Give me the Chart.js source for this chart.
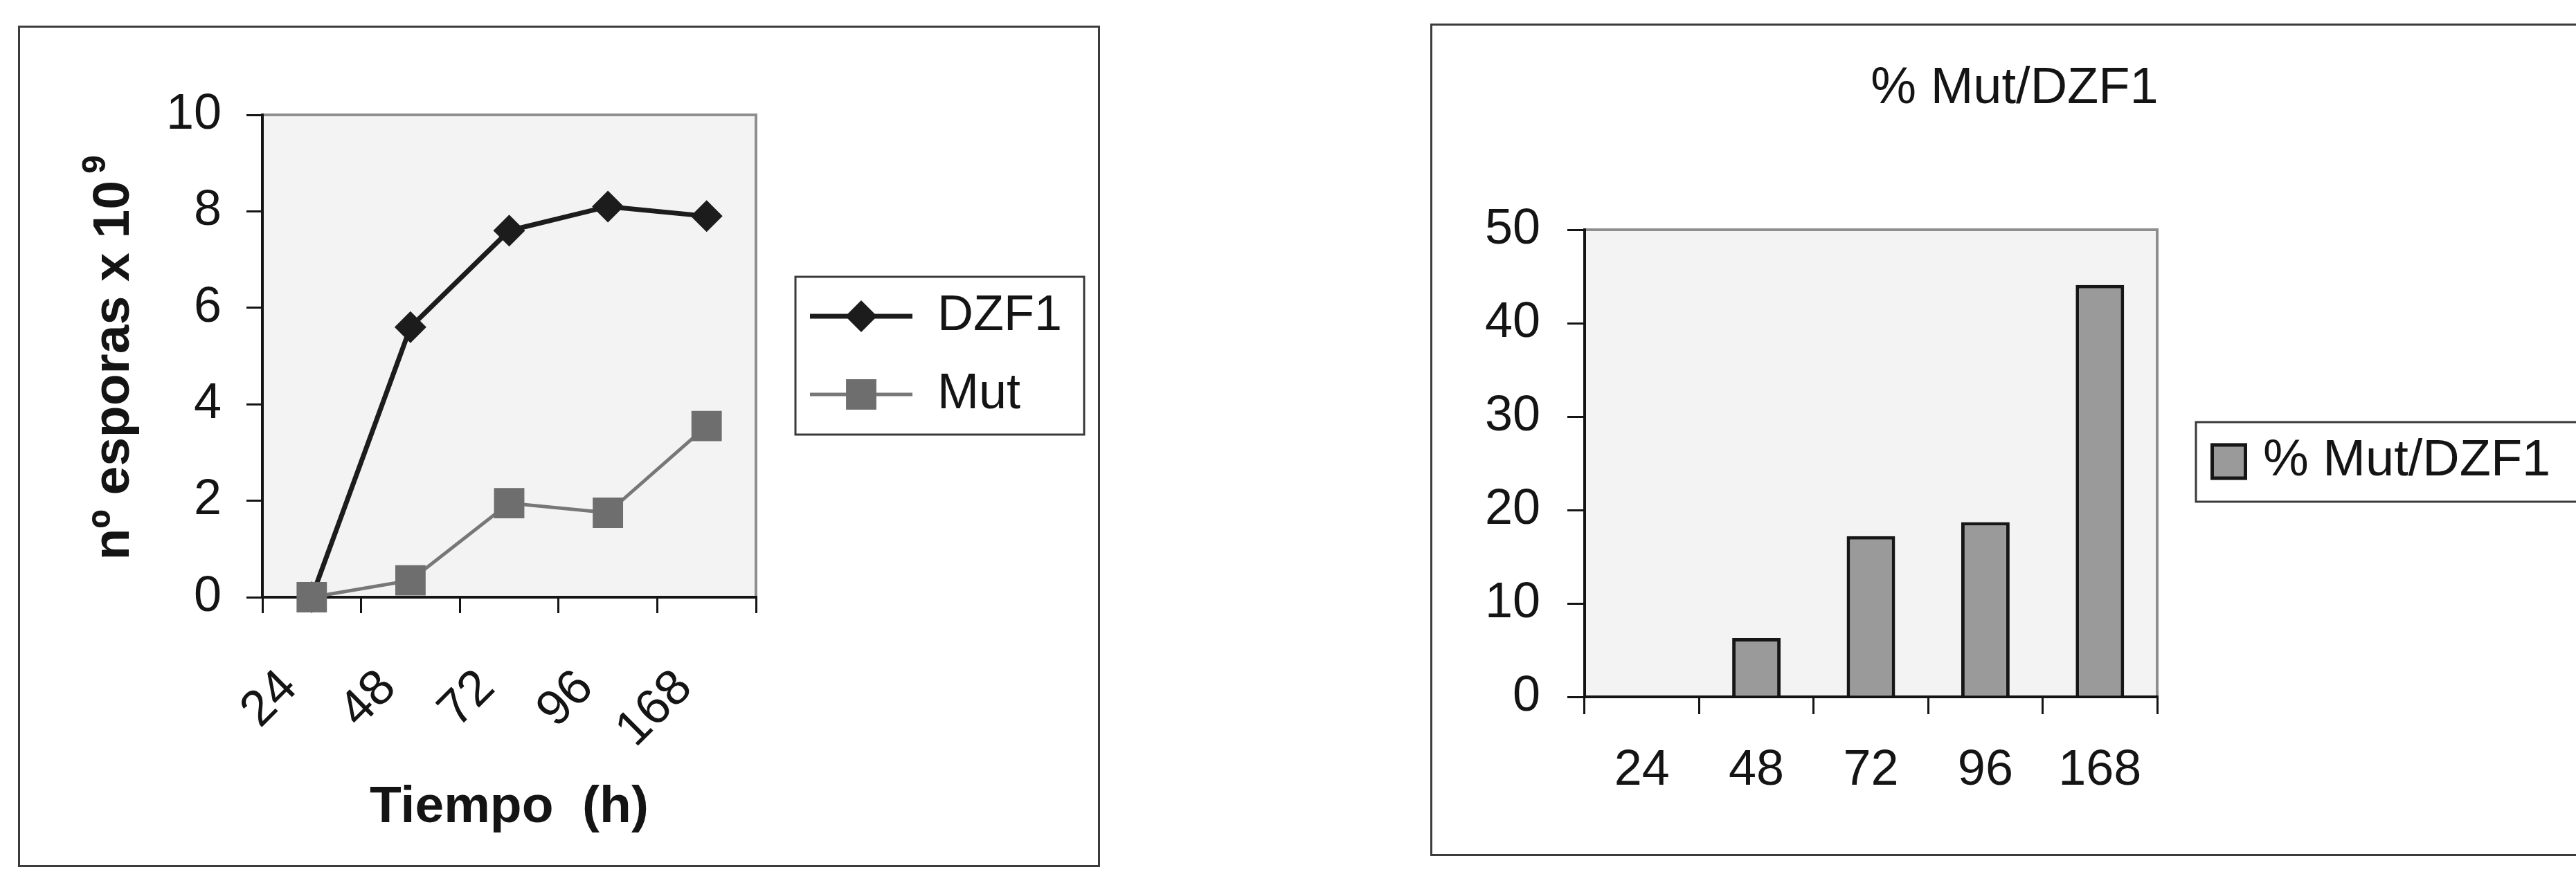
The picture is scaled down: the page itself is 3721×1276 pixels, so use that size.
<!DOCTYPE html>
<html>
<head>
<meta charset="utf-8">
<script src="https://cdn.jsdelivr.net/npm/chart.js@4.4.1/dist/chart.umd.min.js"></script>
<style>
  html, body { margin: 0; padding: 0; background: #fff; width: 3721px; height: 1276px; overflow: hidden; }
  .panel { position: absolute; border: 3px solid #3c3c3c; box-sizing: border-box; background: #fff; }
  #panelSpores { left: 26px; top: 37px; width: 1563px; height: 1216px; }
  #panelRatio  { left: 2066px; top: 34px; width: 1688px; height: 1203px; }
  .panel canvas { position: absolute; left: -3px; top: -3px; }
</style>
</head>
<body>
<div class="panel" id="panelSpores"><canvas id="sporesChart" width="1563" height="1216"></canvas></div>
<div class="panel" id="panelRatio"><canvas id="ratioChart" width="1688" height="1203"></canvas></div>
<script>
// Sampling times (h)
const hours = ['24', '48', '72', '96', '168'];
// Spores (x 10^9) per strain
const dzf1 = [0, 5.6, 7.6, 8.1, 7.9];
const mut = [0, 0.35, 1.95, 1.75, 3.55];
// Mutant spores as % of DZF1
const pctMutDzf1 = [0, 6.3, 17.2, 18.7, 44.1];

const FONT = "'Liberation Sans', Arial, Helvetica, sans-serif";
const INK = '#141414';
Chart.defaults.font.family = FONT;
Chart.defaults.color = INK;

// Light plot background with grey top/right frame (axes supply the other two sides)
const plotFrame = {
  id: 'plotFrame',
  beforeDraw(chart, args, o) {
    const { ctx, chartArea: a } = chart;
    ctx.save();
    ctx.fillStyle = o.fill;
    ctx.fillRect(a.left, a.top, a.right - a.left, a.bottom - a.top);
    ctx.strokeStyle = o.stroke;
    ctx.lineWidth = o.width;
    ctx.beginPath();
    ctx.moveTo(a.left, a.top);
    ctx.lineTo(a.right, a.top);
    ctx.lineTo(a.right, a.bottom);
    ctx.stroke();
    ctx.restore();
  }
};

function markerPath(ctx, style, r, x, y) {
  ctx.beginPath();
  if (style === 'rectRot') {
    ctx.moveTo(x - r, y); ctx.lineTo(x, y - r); ctx.lineTo(x + r, y); ctx.lineTo(x, y + r);
  } else {
    const h = r * Math.SQRT1_2;
    ctx.rect(x - h, y - h, 2 * h, 2 * h);
  }
  ctx.closePath();
}

// Framed legend drawn beside the plot
const boxedLegend = {
  id: 'boxedLegend',
  afterDraw(chart, args, o) {
    const ctx = chart.ctx;
    ctx.save();
    ctx.fillStyle = '#fff';
    ctx.fillRect(o.x, o.y, o.w, o.h);
    ctx.strokeStyle = o.borderColor;
    ctx.lineWidth = o.borderWidth;
    ctx.strokeRect(o.x, o.y, o.w, o.h);
    ctx.font = o.font;
    ctx.textBaseline = 'middle';
    ctx.textAlign = 'left';
    chart.data.datasets.forEach((ds, i) => {
      const cy = o.y + o.firstRow + i * o.rowGap;
      if (o.kind === 'line') {
        ctx.strokeStyle = ds.borderColor;
        ctx.lineWidth = ds.borderWidth;
        ctx.beginPath();
        ctx.moveTo(o.x + o.lineFrom, cy);
        ctx.lineTo(o.x + o.lineTo, cy);
        ctx.stroke();
        ctx.fillStyle = ds.pointBackgroundColor;
        markerPath(ctx, ds.pointStyle, ds.pointRadius, o.x + (o.lineFrom + o.lineTo) / 2, cy);
        ctx.fill();
      } else {
        const s = o.swatch;
        ctx.fillStyle = ds.backgroundColor;
        ctx.fillRect(o.x + o.swatchX, cy - s / 2, s, s);
        ctx.strokeStyle = ds.borderColor;
        ctx.lineWidth = 5;
        ctx.strokeRect(o.x + o.swatchX + 2.5, cy - s / 2 + 2.5, s - 5, s - 5);
      }
      ctx.fillStyle = INK;
      ctx.fillText(ds.label, o.x + o.textX, cy);
    });
    ctx.restore();
  }
};

// Free-standing caption text (chart title, y title with superscript exponent)
const captions = {
  id: 'captions',
  afterDraw(chart, args, o) {
    const ctx = chart.ctx;
    (o.items || []).forEach(it => {
      ctx.save();
      ctx.translate(it.x, it.y);
      if (it.rotate) ctx.rotate(it.rotate);
      ctx.fillStyle = INK;
      ctx.textBaseline = 'alphabetic';
      ctx.textAlign = 'left';
      ctx.font = it.font;
      const wMain = ctx.measureText(it.text).width;
      let wSup = 0;
      if (it.sup) {
        ctx.font = it.supFont;
        wSup = ctx.measureText(it.sup).width + it.supGap;
      }
      const start = -(wMain + wSup) / 2;
      ctx.font = it.font;
      ctx.fillText(it.text, start, it.baseline);
      if (it.sup) {
        ctx.font = it.supFont;
        ctx.fillText(it.sup, start + wMain + it.supGap, it.baseline - it.supRise);
      }
      ctx.restore();
    });
  }
};

const axisInk = { color: INK, width: 4 };

new Chart(document.getElementById('sporesChart'), {
  type: 'line',
  data: {
    labels: hours,
    datasets: [
      {
        label: 'DZF1', data: dzf1, order: 1, clip: false,
        borderColor: '#1c1c1c', borderWidth: 7, tension: 0,
        pointStyle: 'rectRot', pointRadius: 23, pointBackgroundColor: '#1c1c1c',
        pointBorderWidth: 0, pointHoverRadius: 23
      },
      {
        label: 'Mut', data: mut, order: 0, clip: false,
        borderColor: '#777777', borderWidth: 5, tension: 0,
        pointStyle: 'rect', pointRadius: 31, pointBackgroundColor: '#6e6e6e',
        pointBorderWidth: 0, pointHoverRadius: 31
      }
    ]
  },
  options: {
    responsive: false, animation: false, devicePixelRatio: 1,
    layout: { padding: { left: 0, top: 129, right: 497, bottom: 0 } },
    plugins: {
      legend: { display: false }, tooltip: { enabled: false },
      plotFrame: { fill: '#f3f3f3', stroke: '#8e8e8e', width: 4 },
      boxedLegend: {
        kind: 'line', x: 1123, y: 363, w: 417, h: 228, borderColor: '#3a3a3a', borderWidth: 3,
        firstRow: 57, rowGap: 113, lineFrom: 21, lineTo: 169, textX: 205,
        font: `72px ${FONT}`
      },
      captions: {
        items: [{
          x: 160, y: 480, rotate: -Math.PI / 2, baseline: 0,
          text: 'nº esporas x 10', font: `bold 75px ${FONT}`,
          sup: '9', supFont: `bold 48px ${FONT}`, supGap: 10, supRise: 34
        }]
      }
    },
    scales: {
      x: {
        offset: true,
        grid: { offset: true, drawOnChartArea: false, tickLength: 23, color: INK, lineWidth: 3 },
        border: axisInk,
        ticks: { minRotation: 45, maxRotation: 45, autoSkip: false, padding: 66, labelOffset: -32, font: { size: 72 } },
        title: { display: true, text: 'Tiempo  (h)', font: { size: 75, weight: 'bold' }, padding: { top: 0, bottom: 41 } },
        afterFit(s) { s.height = 390; }
      },
      y: {
        min: 0, max: 10,
        grid: { drawOnChartArea: false, tickLength: 23, color: INK, lineWidth: 3 },
        border: axisInk,
        ticks: { stepSize: 2, padding: 36, font: { size: 72 } },
        afterFit(s) { s.width = 353; }
      }
    }
  },
  plugins: [plotFrame, boxedLegend, captions]
});

new Chart(document.getElementById('ratioChart'), {
  type: 'bar',
  data: {
    labels: hours,
    datasets: [{
      label: '% Mut/DZF1', data: pctMutDzf1,
      backgroundColor: '#9a9a9a', borderColor: '#161616', borderWidth: 5,
      categoryPercentage: 1, barPercentage: 0.423
    }]
  },
  options: {
    responsive: false, animation: false, devicePixelRatio: 1,
    layout: { padding: { left: 0, top: 298, right: 638, bottom: 0 } },
    plugins: {
      legend: { display: false }, tooltip: { enabled: false },
      plotFrame: { fill: '#f3f3f3', stroke: '#8e8e8e', width: 4 },
      boxedLegend: {
        kind: 'box', x: 1106, y: 576, w: 640, h: 115, borderColor: '#3a3a3a', borderWidth: 3,
        firstRow: 57, rowGap: 0, swatchX: 21, swatch: 53, textX: 97,
        font: `74px ${FONT}`
      },
      captions: {
        items: [{ x: 844, y: 88 + 27, baseline: 0, text: '% Mut/DZF1', font: `74px ${FONT}` }]
      }
    },
    scales: {
      x: {
        grid: { offset: true, drawOnChartArea: false, tickLength: 25, color: INK, lineWidth: 3 },
        border: axisInk,
        ticks: { maxRotation: 0, autoSkip: false, padding: 39, font: { size: 72 } },
        afterFit(s) { s.height = 230; }
      },
      y: {
        min: 0, max: 50,
        grid: { drawOnChartArea: false, tickLength: 25, color: INK, lineWidth: 3 },
        border: axisInk,
        ticks: { stepSize: 10, padding: 39, font: { size: 72 } },
        afterFit(s) { s.width = 223; }
      }
    }
  },
  plugins: [plotFrame, boxedLegend, captions]
});
</script>
</body>
</html>
